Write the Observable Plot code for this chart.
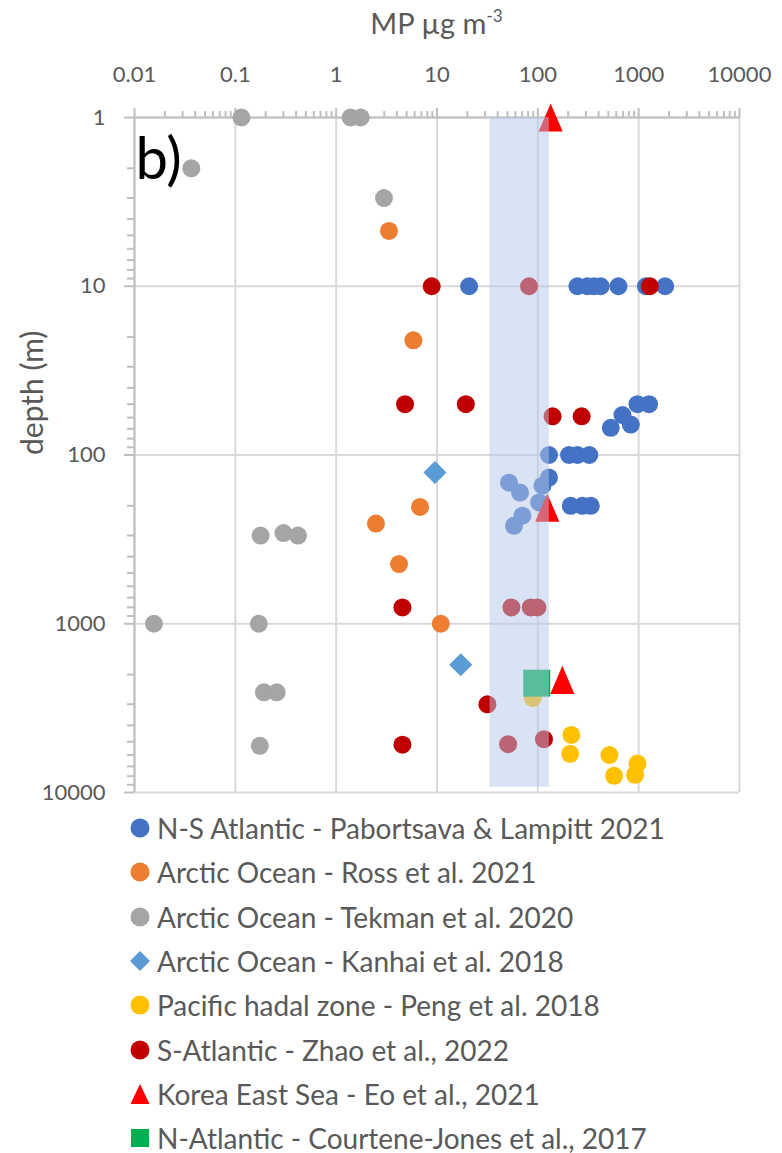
<!DOCTYPE html>
<html>
<head>
<meta charset="utf-8">
<script src="https://cdn.jsdelivr.net/npm/d3@7"></script>
<script src="https://cdn.jsdelivr.net/npm/@observablehq/plot@0.6"></script>
<style>
  body { margin: 0; background: #fff; font-family: Lato, "Open Sans", sans-serif; color: #595959; }
  #wrap { width: 782px; }
  #title { height: 45px; margin-left: 134px; width: 605px; text-align: center; font-size: 29px; line-height: 45px; }
  #title sup { font-size: 17px; vertical-align: 12px; line-height: 0; }
  #legend { padding-top: 1px; }
  .row { display: flex; align-items: center; height: 44.3px; }
  .row svg { margin-left: 130px; flex: none; }
  .row span { margin-left: 7px; font-size: 28px; white-space: nowrap; }
</style>
</head>
<body>
<div id="wrap">
  <div id="title">MP µg m<sup>-3</sup></div>
  <div id="chart"></div>
  <div id="legend"></div>
</div>
<script>
// ---- axis ticks / labels ----
const xTicks = [0.01, 0.1, 1, 10, 100, 1000, 10000];
const xTickLabels = ["0.01", "0.1", "1", "10", "100", "1000", "10000"];
const yTicks = [1, 10, 100, 1000, 10000];
const yTickLabels = ["1", "10", "100", "1000", "10000"];
const minorMultipliers = [2, 3, 4, 5, 6, 7, 8, 9];
const yAxisTitle = "depth (m)";

// ---- shaded range (MP µg m-3, depth) ----
const bandMP = [33.6, 130];
const bandDepth = [1, 9300];

// ---- series ----
const seriesNames = [
  "N-S Atlantic - Pabortsava & Lampitt 2021",
  "Arctic Ocean - Ross et al. 2021",
  "Arctic Ocean - Tekman et al. 2020",
  "Arctic Ocean - Kanhai et al. 2018",
  "Pacific hadal zone - Peng et al. 2018",
  "S-Atlantic - Zhao et al., 2022",
  "Korea East Sea - Eo et al., 2021",
  "N-Atlantic - Courtene-Jones et al., 2017"
];
const seriesColors = ["#4472c4", "#ed7d31", "#a5a5a5", "#5b9bd5", "#ffc000", "#c00000", "#ff0000", "#00b050"];
const seriesShapes = ["circle", "circle", "circle", "diamond", "circle", "circle", "triangle", "square"];

const pabortsavaMP    = [20.8, 247, 310, 360, 420, 630, 1180, 1830, 973, 1268, 690, 835, 529, 129, 204, 247, 324, 129, 111, 103, 51.8, 66.6, 212, 277, 335, 70.3, 58];
const pabortsavaDepth = [10, 10, 10, 10, 10, 10, 10, 10, 50, 50, 58, 66, 69, 100, 100, 100, 100, 136, 152, 191, 146, 167, 200, 200, 200, 229, 263];

const rossMP    = [3.34, 5.83, 6.79, 2.48, 4.2, 10.9];
const rossDepth = [4.7, 20.9, 203, 255, 443, 1000];

const tekmanMP    = [0.115, 1.39, 1.75, 0.0366, 2.98, 0.178, 0.30, 0.418, 0.0156, 0.171, 0.192, 0.257, 0.175];
const tekmanDepth = [1, 1, 1, 2, 3, 300, 290, 300, 1000, 1000, 2550, 2550, 5290];

const kanhaiMP    = [9.55, 17.2];
const kanhaiDepth = [127, 1750];

const pengMP    = [89, 215, 209, 513, 570, 973, 921];
const pengDepth = [2750, 4560, 5900, 6000, 7960, 6735, 7855];

const zhaoMP    = [8.86, 81.8, 1290, 4.82, 19.3, 140, 272, 4.54, 54.7, 85, 99, 31.6, 4.54, 50.7, 115];
const zhaoDepth = [10, 10, 10, 50, 50, 59, 59, 800, 800, 800, 800, 3000, 5210, 5170, 4830];

const eoMP    = [134, 124, 175];
const eoDepth = [1, 205, 2150];

const courteneMP    = [97.5];
const courteneDepth = [2250];

const seriesMP = [pabortsavaMP, rossMP, tekmanMP, kanhaiMP, pengMP, zhaoMP, eoMP, courteneMP];
const seriesDepth = [pabortsavaDepth, rossDepth, tekmanDepth, kanhaiDepth, pengDepth, zhaoDepth, eoDepth, courteneDepth];

// ---- custom marker shapes (Excel-like) ----
const triangleSym = {
  draw(ctx, size) {
    const w = Math.sqrt(size / 0.585), h = w * 1.17;
    ctx.moveTo(0, -h / 2); ctx.lineTo(w / 2, h / 2); ctx.lineTo(-w / 2, h / 2); ctx.closePath();
  }
};
const shapeSymbol = {circle: "circle", diamond: "diamond2", square: "square", triangle: triangleSym};
const shapeR = {circle: 9, diamond: 10.4, square: 15.2, triangle: 10.4};

const minorX = xTicks.slice(0, -1).flatMap(d => minorMultipliers.map(m => d * m));
const minorY = yTicks.slice(0, -1).flatMap(d => minorMultipliers.map(m => d * m));

const dotMarks = seriesNames.map((name, i) => {
  const rows = seriesMP[i].map((mp, j) => ({mp, depth: seriesDepth[i][j]}));
  return Plot.dot(rows, {
    x: "mp", y: "depth",
    symbol: () => shapeSymbol[seriesShapes[i]],
    r: shapeR[seriesShapes[i]],
    fill: seriesColors[i], stroke: "none"
  });
});

const axisGray = "#bfbfbf";
const textGray = "#595959";

const chart = Plot.plot({
  width: 782,
  height: 760,
  marginTop: 72,
  marginLeft: 134,
  marginRight: 43,
  marginBottom: 13,
  style: {fontFamily: "Lato, 'Open Sans', sans-serif", background: "white"},
  x: {type: "log", domain: [xTicks[0], xTicks[xTicks.length - 1]]},
  y: {type: "log", domain: [yTicks[0], yTicks[yTicks.length - 1]], reverse: true},
  symbol: {type: "identity"},
  marks: [
    Plot.gridX(xTicks, {stroke: "#d9d9d9", strokeOpacity: 1, strokeWidth: 2}),
    Plot.gridY(yTicks, {stroke: "#d9d9d9", strokeOpacity: 1, strokeWidth: 2}),
    // axis lines
    Plot.ruleX([xTicks[0]], {stroke: axisGray, strokeWidth: 2}),
    Plot.ruleY([yTicks[0]], {stroke: axisGray, strokeWidth: 2}),
    // minor ticks
    Plot.axisX(minorX, {anchor: "top", tickSize: 7, tickFormat: () => "", stroke: axisGray, strokeWidth: 2, label: null}),
    Plot.axisY(minorY, {anchor: "left", tickSize: 7, tickFormat: () => "", stroke: axisGray, strokeWidth: 2, label: null}),
    // major ticks + labels
    Plot.axisX(xTicks, {anchor: "top", tickSize: 10, tickPadding: 26, stroke: axisGray, strokeWidth: 2,
      fill: textGray, fontSize: 22, tickFormat: d => xTickLabels[xTicks.indexOf(d)], label: null}),
    Plot.axisY(yTicks, {anchor: "left", tickSize: 10, tickPadding: 19, stroke: axisGray, strokeWidth: 2,
      fill: textGray, fontSize: 22, tickFormat: d => yTickLabels[yTicks.indexOf(d)], label: null}),
    Plot.text([yAxisTitle], {frameAnchor: "left", rotate: -90, dx: -101, fontSize: 30, fill: textGray, text: d => d}),
    ...dotMarks,
    Plot.rect([{}], {x1: () => bandMP[0], x2: () => bandMP[1], y1: () => bandDepth[0], y2: () => bandDepth[1],
      fill: "#b4c7e7", fillOpacity: 0.5}),
    Plot.text(["b)"], {frameAnchor: "top-left", dx: 1, dy: 20, lineAnchor: "top", textAnchor: "start",
      fontSize: 58, fill: "black", text: d => d})
  ]
});
document.getElementById("chart").appendChild(chart);

// ---- legend ----
const legend = document.getElementById("legend");
seriesNames.forEach((name, i) => {
  const row = document.createElement("div");
  row.className = "row";
  const s = seriesShapes[i], c = seriesColors[i];
  let shape;
  if (s === "circle") shape = `<circle cx="10" cy="10" r="9.5" fill="${c}"/>`;
  else if (s === "diamond") shape = `<path d="M10,0 L20,10 L10,20 L0,10Z" fill="${c}"/>`;
  else if (s === "triangle") shape = `<path d="M10,0 L19.5,20 L0.5,20Z" fill="${c}"/>`;
  else shape = `<rect x="1" y="1" width="18" height="18" fill="${c}"/>`;
  row.innerHTML = `<svg width="20" height="20" viewBox="0 0 20 20">${shape}</svg><span>${name}</span>`;
  legend.appendChild(row);
});
</script>
</body>
</html>
